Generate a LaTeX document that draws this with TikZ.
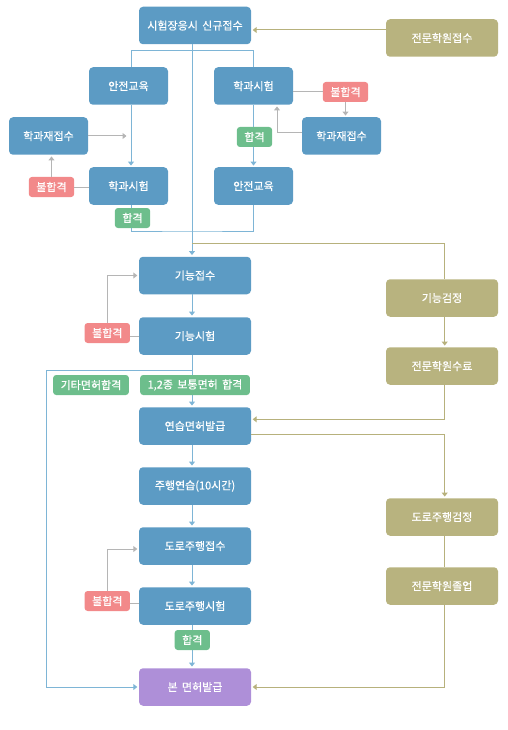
\documentclass[tikz,border=0pt]{standalone}
\usepackage{fontspec}
\setmainfont{Noto Sans CJK KR}
\newfontfamily\boxfont{Noto Sans CJK KR}[FakeBold=0.5]
\usetikzlibrary{arrows.meta}
\definecolor{stepblue}{HTML}{5C9BC4}
\definecolor{acadolive}{HTML}{B8B37F}
\definecolor{failred}{HTML}{F2898A}
\definecolor{passgreen}{HTML}{6DBE8C}
\definecolor{finalpurple}{HTML}{AE8FD8}
\definecolor{flowblue}{HTML}{7EB5D6}
\definecolor{retrygrey}{HTML}{B5B5B5}
\definecolor{oliveline}{HTML}{B7B17C}

\begin{document}
\begin{tikzpicture}[
  x=1pt, y=-1pt,
  box/.style={rounded corners=4pt, text=white, font=\boxfont\fontsize{11}{13}\selectfont, minimum width=112pt, minimum height=37.5pt, inner sep=0pt},
  stepbox/.style={box, fill=stepblue},
  smallbox/.style={box, fill=stepblue, minimum width=79pt},
  acadbox/.style={box, fill=acadolive},
  tag/.style={rounded corners=3pt, text=white, font=\boxfont\fontsize{11}{13}\selectfont, minimum height=20pt, inner xsep=7.5pt, inner ysep=0pt},
  failtag/.style={tag, fill=failred},
  passtag/.style={tag, fill=passgreen},
  flowline/.style={flowblue, line width=1pt},
  flowarrow/.style={flowline, -{Triangle[width=6pt,length=4pt]}, shorten >=1.5pt},
  retryline/.style={retrygrey, line width=1pt},
  retryarrow/.style={retryline, -{Triangle[width=6pt,length=4pt]}, shorten >=1.5pt},
  acadline/.style={oliveline, line width=1pt},
  acadarrow/.style={acadline, -{Triangle[width=6pt,length=4pt]}, shorten >=1.5pt}
]
  \useasboundingbox (0,0) rectangle (508,730);
  % main steps
  \node[stepbox] (reg) at (195,25.5) {시험장응시\, 신규접수};
  \node[acadbox] (acadReg) at (442,38) {전문학원접수};
  \node[smallbox] (safeL) at (128.5,86) {안전교육};
  \node[smallbox] (theoR) at (253.5,86) {학과시험};
  \node[smallbox] (retakeL) at (48.5,136) {학과재접수};
  \node[smallbox] (theoL) at (128.5,186) {학과시험};
  \node[smallbox] (retakeR) at (341.5,136) {학과재접수};
  \node[smallbox] (safeR) at (253.5,186) {안전교육};
  \node[stepbox] (skillReg) at (195,275.5) {기능접수};
  \node[stepbox] (skillTest) at (195,336) {기능시험};
  \node[acadbox] (skillChk) at (442,298) {기능검정};
  \node[acadbox] (acadDone) at (442,366) {전문학원수료};
  \node[stepbox] (permit) at (195,426) {연습면허발급};
  \node[stepbox] (drill) at (195,486) {주행연습(10시간)};
  \node[stepbox] (roadReg) at (195,546) {도로주행접수};
  \node[stepbox] (roadTest) at (195,606) {도로주행시험};
  \node[stepbox, fill=finalpurple] (license) at (195,687) {본\, 면허발급};
  \node[acadbox] (roadChk) at (442,517) {도로주행검정};
  \node[acadbox] (acadGrad) at (442,586) {전문학원졸업};

  \coordinate (fork) at (192,50.7);
  \coordinate (merge) at (192,231);
  \coordinate (tap) at (192,243.5);
  \coordinate (split) at (192,370);
  \coordinate (detour) at (46.3,687);
  \coordinate (rejoin) at (128,136);

  % blue flow
  \draw[flowarrow] ([xshift=-3pt]reg.south) -- ([xshift=-3pt]skillReg.north);
  \draw[flowline] ([xshift=2.5pt]safeL.north) |- (fork) -| (theoR.north);
  \draw[flowarrow] ([xshift=2.5pt]safeL.south) -- ([xshift=2.5pt]theoL.north);
  \draw[flowarrow] (theoR.south) -- (safeR.north);
  \draw[flowline] ([xshift=2.5pt]theoL.south) |- (merge) -| (safeR.south);
  \draw[flowarrow] ([xshift=-3pt]skillReg.south) -- ([xshift=-3pt]skillTest.north);
  \draw[flowarrow] ([xshift=-3pt]skillTest.south) -- ([xshift=-3pt]permit.north);
  \draw[flowarrow] (split) -| (detour) -- (license.west);
  \draw[flowarrow] ([xshift=-3pt]permit.south) -- ([xshift=-3pt]drill.north);
  \draw[flowarrow] ([xshift=-3pt]drill.south) -- ([xshift=-3pt]roadReg.north);
  \draw[flowarrow] ([xshift=-3pt]roadReg.south) -- ([xshift=-3pt]roadTest.north);
  \draw[flowarrow] ([xshift=-3pt]roadTest.south) -- ([xshift=-3pt]license.north);

  % pass / fail tags
  \node[passtag] (passA) at (132.5,218) {합격};
  \node[passtag] (passB) at (254.5,137) {합격};
  \node[failtag] (failA) at (51.5,187) {불합격};
  \node[failtag] (failB) at (345.5,92) {불합격};
  \node[failtag] (failC) at (107.3,333) {불합격};
  \node[passtag] (passOther) at (91,385) {기타면허합격};
  \node[passtag, minimum width=107pt] (passNormal) at (195,385) {1,2종\, 보통면허\, 합격};
  \node[failtag] (failD) at (107.3,601) {불합격};
  \node[passtag] (passD) at (192.3,640) {합격};

  % grey retries
  \draw[retryarrow] (retakeL.east) -- (rejoin);
  \draw[retryline] (theoL.west |- failA.east) -- (failA.east);
  \draw[retryarrow] (failA.north) -- (failA.north |- retakeL.south);
  \draw[retryline] (theoR.east |- failB.west) -- (failB.west);
  \draw[retryarrow] (failB.south) -- (failB.south |- retakeR.north);
  \draw[retryarrow] ([yshift=3.7pt]retakeR.west) -| ([xshift=23.5pt]theoR.south);
  \draw[retryline] (skillTest.west) -- (skillTest.west -| failC.east);
  \draw[retryarrow] (failC.north) |- (skillReg.west);
  \draw[retryline] ([yshift=2.5pt]roadTest.west) -- ([yshift=2.5pt]roadTest.west -| failD.east);
  \draw[retryarrow] (failD.north) |- ([yshift=-3pt]roadReg.west);

  % driving school track
  \draw[acadarrow] ([yshift=8pt]acadReg.west) -- ([yshift=8pt]acadReg.west -| reg.east);
  \draw[acadline] (tap) -| ([xshift=2.7pt]skillChk.north);
  \draw[acadarrow] ([xshift=2.7pt]skillChk.south) -- ([xshift=2.7pt]acadDone.north);
  \draw[acadarrow] ([xshift=2.7pt]acadDone.south) |- ([yshift=6.7pt]permit.east);
  \draw[acadarrow] ([yshift=-8pt]permit.east) -| ([xshift=2.7pt]roadChk.north);
  \draw[acadline] ([xshift=2.7pt]roadChk.south) -- ([xshift=2.7pt]acadGrad.north);
  \draw[acadarrow] ([xshift=2.7pt]acadGrad.south) |- (license.east);
\end{tikzpicture}
\end{document}
